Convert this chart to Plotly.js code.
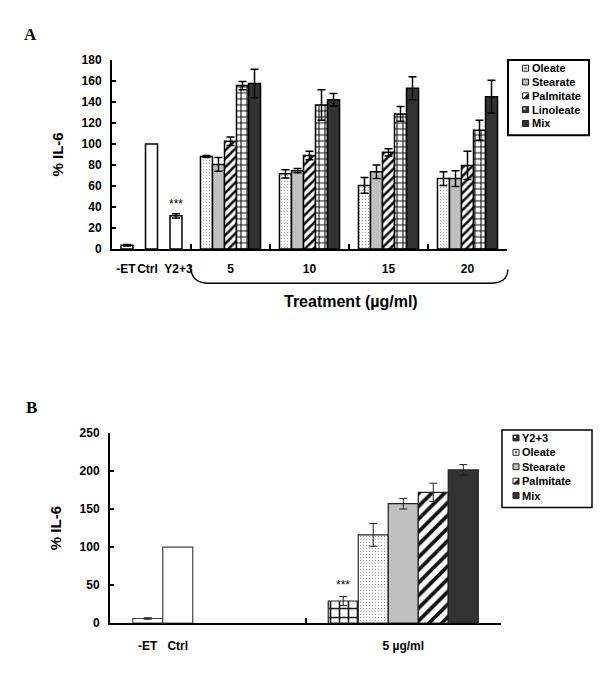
<!DOCTYPE html>
<html><head><meta charset="utf-8">
<script src="https://cdn.plot.ly/plotly-3.0.1.min.js"></script>
<style>html,body{margin:0;padding:0;background:#fff}#chart{width:600px;height:680px}</style>
</head><body><div id="chart"></div><script>
// ---------- Panel A data ----------
const groupsA = ['5', '10', '15', '20'];
const ctrlLabelsA = ['-ET', 'Ctrl', 'Y2+3'];
const ctrlValsA = [3.5, 100, 31.5];
const ctrlErrA = [0.8, NaN, 2];
const seriesA = ['Oleate', 'Stearate', 'Palmitate', 'Linoleate', 'Mix'];
const oleateA = [88, 71.5, 60.5, 67];
const oleateErrA = [1, 4, 7.5, 6.5];
const stearateA = [80.5, 74.5, 73.5, 67];
const stearateErrA = [6.5, 2, 6.5, 7.5];
const palmitateA = [102.5, 89, 92, 79.5];
const palmitateErrA = [4, 4, 3.5, 13.5];
const linoleateA = [155.5, 137, 128.5, 113];
const linoleateErrA = [4, 14.5, 7, 9.5];
const mixA = [157.5, 142, 153, 145];
const mixErrA = [13.5, 6, 11, 15.5];
const yTicksA = [0, 20, 40, 60, 80, 100, 120, 140, 160, 180];

// ---------- Panel B data ----------
const ctrlLabelsB = ['-ET', 'Ctrl'];
const ctrlValsB = [6, 100];
const ctrlErrB = [1, NaN];
const groupB = '5 µg/ml';
const seriesB = ['Y2+3', 'Oleate', 'Stearate', 'Palmitate', 'Mix'];
const valsB = [29, 116, 157, 172, 201.5];
const errB = [6, 15, 7, 12, 7];
const yTicksB = [0, 50, 100, 150, 200, 250];

// ---------- helpers ----------
const W = 600, H = 680;
const px = x => x / W, py = y => 1 - y / H;
const SANS = 'Liberation Sans, Arial, Helvetica, sans-serif';
const SERIF = 'Liberation Serif, Times New Roman, serif';

const valsA = {Oleate: oleateA, Stearate: stearateA, Palmitate: palmitateA, Linoleate: linoleateA, Mix: mixA};
const errsA = {Oleate: oleateErrA, Stearate: stearateErrA, Palmitate: palmitateErrA, Linoleate: linoleateErrA, Mix: mixErrA};

function markerFor(name, big) {
  const s = big ? 1.5 : 1;
  switch (name) {
    case 'Oleate': return {color: 'white', pattern: {shape: '.', fgcolor: '#888', bgcolor: 'white', size: 3, solidity: 0.12}};
    case 'Stearate': return {color: '#c0c0c0'};
    case 'Palmitate': return {color: 'white', pattern: {shape: '/', fgcolor: '#111', bgcolor: 'white', size: 6 * s, solidity: 0.42}};
    case 'Linoleate':
    case 'Y2+3': return {color: 'white', pattern: {shape: '+', fgcolor: '#111', bgcolor: 'white', size: 6 * s, solidity: 0.33}};
    case 'Mix': return {color: '#333333'};
  }
  return {color: 'white'};
}

const traces = [];
const slotA = 0.152;
const ctrlXA = ctrlLabelsA.map((_, k) => 0.5 + (k - 1) * 0.31);
const labelNudgeA = [-0.013, -0.051, 0.032];
// Panel A controls
traces.push({
  type: 'bar', name: 'Controls A', showlegend: false,
  x: ctrlXA, y: ctrlValsA, width: slotA,
  marker: {color: 'white', line: {color: '#000', width: 1.5}},
  error_y: {type: 'data', array: ctrlErrA, color: '#000', thickness: 1.5, width: 4},
  xaxis: 'x', yaxis: 'y'
});
seriesA.forEach((s, k) => {
  const m = markerFor(s, false); m.line = {color: '#000', width: 1.5};
  traces.push({
    type: 'bar', name: s, showlegend: false,
    x: groupsA.map((_, i) => i + 1.5 + (k - 2) * slotA), y: valsA[s], width: slotA,
    marker: m,
    error_y: {type: 'data', array: errsA[s], color: '#000', thickness: 1.5, width: 4},
    xaxis: 'x', yaxis: 'y'
  });
});

// Panel B
const slotB = 0.1535;
const ctrlXB = ctrlLabelsB.map((_, k) => 0.5 + (k - 2) * slotB);
traces.push({
  type: 'bar', name: 'Controls B', showlegend: false,
  x: ctrlXB, y: ctrlValsB, width: slotB,
  marker: {color: 'white', line: {color: '#444', width: 1.2}},
  error_y: {type: 'data', array: ctrlErrB, color: '#222', thickness: 1, width: 4},
  xaxis: 'x2', yaxis: 'y2'
});
seriesB.forEach((s, k) => {
  const m = markerFor(s, true); m.line = {color: '#222', width: 1.2};
  traces.push({
    type: 'bar', name: s + ' (B)', showlegend: false,
    x: [1.5 + (k - 2) * slotB], y: [valsB[k]], width: slotB,
    marker: m,
    error_y: {type: 'data', array: [errB[k]], color: '#222', thickness: 1, width: 4},
    xaxis: 'x2', yaxis: 'y2'
  });
});
// invisible carrier traces so the label axes are drawn
traces.push({type: 'scatter', mode: 'markers', x: [0.5], y: [0], marker: {opacity: 0}, xaxis: 'x3', yaxis: 'y', showlegend: false, hoverinfo: 'skip'});
traces.push({type: 'scatter', mode: 'markers', x: [0.5], y: [0], marker: {opacity: 0}, xaxis: 'x4', yaxis: 'y2', showlegend: false, hoverinfo: 'skip'});

const tickFont = {family: SANS, size: 12, color: '#000', weight: 'bold'};
const yBase = {
  showline: true, linecolor: '#000', linewidth: 2, ticks: 'inside', ticklen: 4, tickwidth: 2, tickcolor: '#000',
  showgrid: false, zeroline: false, tickfont: tickFont, ticklabelstandoff: 6, automargin: true,
  fixedrange: true
};
const xBase = {
  showline: true, linecolor: '#000', linewidth: 2, ticks: 'inside', ticklen: 5, tickwidth: 2, tickcolor: '#000',
  showgrid: false, zeroline: false, showticklabels: false, fixedrange: true
};

const layout = {
  width: W, height: H, margin: {l: 0, r: 0, t: 0, b: 0},
  paper_bgcolor: '#fff', plot_bgcolor: 'rgba(0,0,0,0)',
  barmode: 'overlay', showlegend: false,
  font: {family: SANS, color: '#000'},
  xaxis: Object.assign({}, xBase, {domain: [px(112), px(507)], range: [0, 5], anchor: 'y', tickvals: [1, 2, 3, 4, 5]}),
  xaxis3: {overlaying: 'x', anchor: 'y', range: [0, 5], showline: false, showgrid: false, zeroline: false, ticks: '',
    tickvals: ctrlXA.map((x, k) => x + labelNudgeA[k]).concat(groupsA.map((_, i) => i + 1.5)), tickangle: 0,
    ticktext: ctrlLabelsA.concat(groupsA), tickfont: tickFont, ticklabelstandoff: 11, fixedrange: true},
  yaxis: Object.assign({}, yBase, {domain: [py(247), py(54)], range: [0, 180], tickvals: yTicksA, anchor: 'x',
    title: {text: '% IL-6', font: {family: SANS, size: 15, weight: 'bold'}, standoff: 14}}),
  xaxis2: Object.assign({}, xBase, {domain: [px(110), px(501)], range: [0, 2], anchor: 'y2', tickvals: [1, 2]}),
  xaxis4: {overlaying: 'x2', anchor: 'y2', range: [0, 2], showline: false, showgrid: false, zeroline: false, ticks: '',
    tickvals: ctrlXB.concat([1.5]), tickangle: 0,
    ticktext: ctrlLabelsB.concat([groupB]), tickfont: tickFont, ticklabelstandoff: 14, fixedrange: true},
  yaxis2: Object.assign({}, yBase, {domain: [py(629), py(435)], range: [0, 250], tickvals: yTicksB, anchor: 'x2',
    title: {text: '% IL-6', font: {family: SANS, size: 15, weight: 'bold'}, standoff: 14}}),
  shapes: [], annotations: []
};

// significance marks
layout.annotations.push({xref: 'x', yref: 'y', x: ctrlXA[2], y: ctrlValsA[2] + ctrlErrA[2] + 1, yanchor: 'bottom',
  text: '***', showarrow: false, font: {family: SANS, size: 12}});
layout.annotations.push({xref: 'x2', yref: 'y2', x: 1.5 - 2 * slotB, y: valsB[0] + errB[0] + 3, yanchor: 'bottom',
  text: '***', showarrow: false, font: {family: SANS, size: 12}});

// panel letters
layout.annotations.push({xref: 'paper', yref: 'paper', x: px(22), y: py(28), xanchor: 'left', yanchor: 'middle',
  text: 'A', showarrow: false, font: {family: SERIF, size: 17, weight: 'bold'}});
layout.annotations.push({xref: 'paper', yref: 'paper', x: px(24), y: py(409), xanchor: 'left', yanchor: 'middle',
  text: 'B', showarrow: false, font: {family: SERIF, size: 17, weight: 'bold'}});

// Treatment label and brace (panel A)
layout.annotations.push({xref: 'paper', yref: 'paper', x: px(351), y: py(301), xanchor: 'center', yanchor: 'middle',
  text: 'Treatment (µg/ml)', showarrow: false, font: {family: SANS, size: 16, weight: 'bold'}});
const P = (x, y) => px(x) + ',' + py(y);
layout.shapes.push({type: 'path', xref: 'paper', yref: 'paper', line: {color: '#000', width: 1.5},
  path: 'M' + P(190, 263) + ' C' + P(191, 276) + ' ' + P(196, 282) + ' ' + P(209, 282) + ' L' + P(490, 282) +
        ' C' + P(502, 282) + ' ' + P(507, 278) + ' ' + P(508, 268)});

// custom legends
function legend(names, x0, y0, x1, y1, symX, textX, firstY, step, fontSize, lw) {
  layout.shapes.push({type: 'rect', xref: 'paper', yref: 'paper', x0: px(x0), x1: px(x1), y0: py(y0), y1: py(y1),
    line: {color: '#000', width: lw}, fillcolor: 'white'});
  names.forEach((n, k) => {
    const cy = firstY + k * step, h = 3;
    const r = (a, b, c, d, fill) => layout.shapes.push({type: 'rect', xref: 'paper', yref: 'paper',
      x0: px(a), x1: px(c), y0: py(b), y1: py(d), line: {color: '#222', width: 1}, fillcolor: fill});
    if (n === 'Stearate') r(symX - h, cy - h, symX + h, cy + h, '#bbbbbb');
    else if (n === 'Mix') r(symX - h, cy - h, symX + h, cy + h, '#333333');
    else if (n === 'Oleate') { r(symX - h, cy - h, symX + h, cy + h, 'white');
      layout.shapes.push({type: 'rect', xref: 'paper', yref: 'paper', x0: px(symX - 1), x1: px(symX + 1), y0: py(cy - 1), y1: py(cy + 1), line: {width: 0}, fillcolor: '#444'}); }
    else if (n === 'Palmitate') { r(symX - h, cy - h, symX + h, cy + h, 'white');
      layout.shapes.push({type: 'path', xref: 'paper', yref: 'paper', line: {width: 0}, fillcolor: '#222',
        path: 'M' + P(symX + h, cy - h) + ' L' + P(symX + h, cy + h) + ' L' + P(symX - h, cy + h) + ' Z'}); }
    else { r(symX - h, cy - h, symX + h, cy + h, '#333333');
      layout.shapes.push({type: 'rect', xref: 'paper', yref: 'paper', x0: px(symX - h + 1), x1: px(symX), y0: py(cy - h + 1), y1: py(cy), line: {width: 0}, fillcolor: 'white'}); }
    layout.annotations.push({xref: 'paper', yref: 'paper', x: px(textX), y: py(cy), xanchor: 'left', yanchor: 'middle',
      text: n, showarrow: false, font: {family: SANS, size: fontSize, weight: 'bold'}});
  });
}
legend(seriesA, 508, 54, 589, 131, 525.5, 530, 62.5, 14.1, 11, 2);
legend(seriesB, 502, 432, 592, 511, 516, 520, 440, 14.7, 11, 1.5);

Plotly.newPlot('chart', traces, layout, {staticPlot: true});
</script></body></html>
